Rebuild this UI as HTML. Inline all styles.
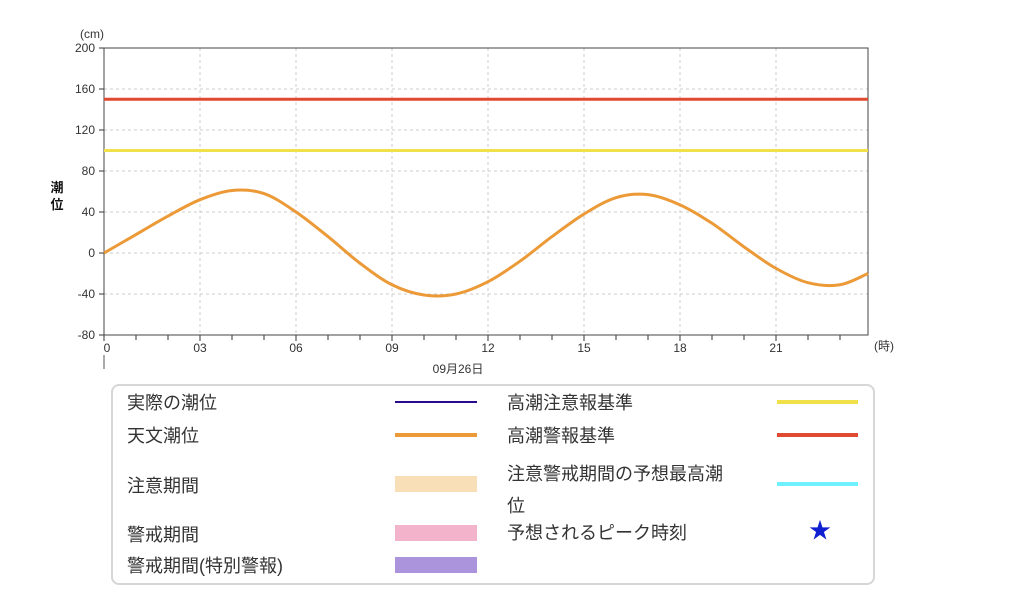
<!DOCTYPE html>
<html><head><meta charset="utf-8"><style>
body{margin:0;width:1024px;height:597px;background:#fff;overflow:hidden;font-family:"Liberation Sans","Noto Sans CJK JP",sans-serif;}
.lg{position:absolute;font-size:18px;color:#333;line-height:20px;white-space:nowrap;}
.sw{position:absolute;}
</style></head><body>
<svg width="1024" height="380" style="position:absolute;left:0;top:0">
<g id="grid"></g><g id="axes"></g><g id="series"></g>
</svg>
<div style="position:absolute;left:111px;top:384px;width:760px;height:197px;border:2px solid #d6d6d6;border-radius:8px;"></div>
<div class="lg" style="left:127px;top:393px">実際の潮位</div>
<div class="sw" style="left:395px;top:401px;width:82px;height:2px;background:#2a0a8c"></div>
<div class="lg" style="left:127px;top:426px">天文潮位</div>
<div class="sw" style="left:395px;top:433px;width:82px;height:4px;background:#ec9a38"></div>
<div class="lg" style="left:127px;top:476px">注意期間</div>
<div class="sw" style="left:395px;top:476px;width:82px;height:16px;background:#f8dfb8"></div>
<div class="lg" style="left:127px;top:525px">警戒期間</div>
<div class="sw" style="left:395px;top:525px;width:82px;height:16px;background:#f2b3cb"></div>
<div class="lg" style="left:127px;top:556px">警戒期間(特別警報)</div>
<div class="sw" style="left:395px;top:557px;width:82px;height:16px;background:#ab94db"></div>
<div class="lg" style="left:507px;top:393px">高潮注意報基準</div>
<div class="sw" style="left:777px;top:400px;width:81px;height:4px;background:#f0e04a"></div>
<div class="lg" style="left:507px;top:426px">高潮警報基準</div>
<div class="sw" style="left:777px;top:433px;width:81px;height:4px;background:#e04a30"></div>
<div class="lg" style="left:507px;top:458px;line-height:32px">注意警戒期間の予想最高潮<br>位</div>
<div class="sw" style="left:777px;top:482px;width:81px;height:4px;background:#6ef0ff"></div>
<div class="lg" style="left:507px;top:523px">予想されるピーク時刻</div>
<div class="lg" style="left:809px;top:521px;color:#1020d0;font-size:22px">★</div>
<script>
const hours=[0,1,2,3,4,5,6,7,8,9,10,11,12,13,14,15,16,17,18,19,20,21,22,23,23.875];
const astro=[0,18,36,52,61,58,40,16,-10,-31,-41,-40,-28,-8,16,38,54,57,47,29,6,-15,-29,-31,-20];
const yTicks=[-80,-40,0,40,80,120,160,200];
const xTickHours=[0,3,6,9,12,15,18,21];
const xTickLabels=["0","03","06","09","12","15","18","21"];
const cautionLevel=[100];
const warningLevel=[150];
const X0=104,X1=868,Y0=48,Y1=335;
function x(h){return X0+32*h;}
function y(v){return Y1-(v+80)*(Y1-Y0)/280;}
const NS="http://www.w3.org/2000/svg";
function mk(tag,attrs,parent,name){const e=document.createElementNS(NS,tag);for(const k in attrs)e.setAttribute(k,attrs[k]);document.getElementById(parent).appendChild(e);return e;}
yTicks.forEach(v=>{
 if(v>-80&&v<200){const g=mk('line',{x1:X0,x2:X1,y1:y(v),y2:y(v),stroke:'#ccc','stroke-dasharray':'3,3'},'grid');
 
 }
 const t=mk('text',{x:X0-9,y:y(v)+4,'text-anchor':'end','font-size':12,fill:'#333'},'axes');t.textContent=v;
 
 
 const tk=mk('line',{x1:X0-5,x2:X0,y1:y(v),y2:y(v),stroke:'#333'},'axes');
 
 
});
xTickHours.forEach((h,i)=>{
 if(h>0){const g=mk('line',{x1:x(h),x2:x(h),y1:Y0,y2:Y1,stroke:'#ccc','stroke-dasharray':'3,3'},'grid');
 
 }
 const t=mk('text',{x:x(h)+(h==0?3:0),y:Y1+17,'text-anchor':'middle','font-size':12,fill:'#333'},'axes');t.textContent=xTickLabels[i];
 
 
});
for(let h=0;h<24;h++){const tk=mk('line',{x1:x(h),x2:x(h),y1:Y1,y2:Y1+(h%3==0?6:5),stroke:'#333'},'axes');
 
 }
const fr=mk('rect',{x:X0,y:Y0,width:X1-X0,height:Y1-Y0,fill:'none',stroke:'#444','stroke-width':1},'axes');


const dl=mk('line',{x1:X0,x2:X0,y1:Y1+20,y2:Y1+34,stroke:'#555'},'axes');


[['(cm)',80,38,'y-unit','start'],['(時)',874,350,'x-unit','start'],['09月26日',458,373,'date-label','middle']].forEach(a=>{
 const t=mk('text',{x:a[1],y:a[2],'font-size':12,fill:'#333','text-anchor':a[4]},'axes');t.textContent=a[0];
 
 });
const yt=mk('text',{x:57,y:192,'font-size':13,'font-weight':'bold',fill:'#111','text-anchor':'middle'},'axes');


yt.innerHTML='<tspan x="57" dy="0">潮</tspan><tspan x="57" dy="17">位</tspan>';
const wl=mk('line',{x1:X0,x2:X1,y1:y(warningLevel[0]),y2:y(warningLevel[0]),stroke:'#e04a30','stroke-width':3},'series');


const cl=mk('line',{x1:X0,x2:X1,y1:y(cautionLevel[0]),y2:y(cautionLevel[0]),stroke:'#f0e04a','stroke-width':3},'series');


const P=hours.map((h,i)=>[x(h),y(astro[i])]);
let d='M'+P[0][0]+','+P[0][1];
for(let i=0;i<P.length-1;i++){const p0=P[Math.max(0,i-1)],p1=P[i],p2=P[i+1],p3=P[Math.min(P.length-1,i+2)];
 d+=` C${p1[0]+(p2[0]-p0[0])/6},${p1[1]+(p2[1]-p0[1])/6} ${p2[0]-(p3[0]-p1[0])/6},${p2[1]-(p3[1]-p1[1])/6} ${p2[0]},${p2[1]}`;}
const ln=mk('path',{d:d,fill:'none',stroke:'#ec9a38','stroke-width':3},'series');


</script>
</body></html>
